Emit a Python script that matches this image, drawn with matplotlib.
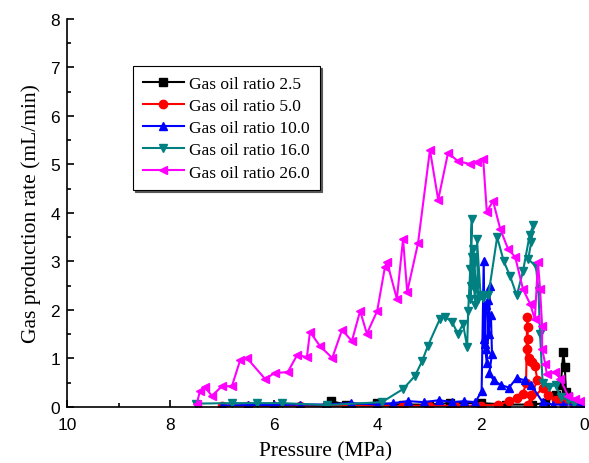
import matplotlib
matplotlib.use("Agg")
import matplotlib.pyplot as plt
from matplotlib.ticker import MultipleLocator

# ---- data ----
labels = ["Gas oil ratio 2.5", "Gas oil ratio 5.0", "Gas oil ratio 10.0",
          "Gas oil ratio 16.0", "Gas oil ratio 26.0"]

p_25 = [4.90, 4.60, 4.00, 3.50, 3.00, 2.60, 2.00, 1.50, 1.00, 0.75, 0.55, 0.45,
        0.40, 0.37, 0.35, 0.30, 0.20, 0.10, 0.05]
q_25 = [0.12, 0.05, 0.08, 0.05, 0.05, 0.08, 0.08, 0.05, 0.05, 0.08, 0.25, 0.45,
        1.13, 0.82, 0.30, 0.20, 0.10, 0.06, 0.05]

p_50 = [7.00, 6.50, 6.00, 5.50, 5.00, 4.50, 4.00, 3.50, 3.00, 2.50, 2.00, 1.66,
        1.45, 1.30, 1.18, 1.12, 1.10, 1.08, 1.11, 1.07, 1.09, 1.05, 1.00, 0.95,
        0.90, 1.02, 1.08, 0.80, 0.70, 0.55, 0.40, 0.20, 0.05]
q_50 = [0.03, 0.03, 0.02, 0.03, 0.02, 0.03, 0.02, 0.02, 0.03, 0.02, 0.03, 0.05,
        0.12, 0.18, 0.27, 0.50, 1.85, 1.65, 1.20, 1.00, 1.40, 0.95, 0.92, 0.85,
        0.55, 0.25, 0.05, 0.40, 0.25, 0.15, 0.08, 0.05, 0.04]

p_10 = [7.00, 6.50, 6.00, 5.50, 5.00, 4.50, 4.00, 3.70, 3.40, 3.10, 2.80, 2.55,
        2.33, 2.10, 1.98, 1.94, 1.92, 1.90, 1.93, 1.88, 1.85, 1.82, 1.84, 1.90,
        1.80, 1.78, 1.83, 1.75, 1.60, 1.45, 1.30, 1.15, 1.02, 0.80, 0.60, 0.40,
        0.20, 0.05]
q_10 = [0.03, 0.04, 0.04, 0.05, 0.05, 0.08, 0.05, 0.08, 0.12, 0.10, 0.14, 0.10,
        0.12, 0.10, 0.33, 3.00, 1.30, 2.10, 1.40, 0.90, 2.20, 2.50, 1.50, 1.20,
        1.90, 1.10, 0.70, 0.55, 0.45, 0.40, 0.60, 0.55, 0.45, 0.10, 0.05, 0.05,
        0.05, 0.06]

p_16 = [7.50, 6.81, 6.32, 5.84, 4.97, 3.91, 3.50, 3.27, 3.13, 3.02, 2.79, 2.69,
        2.55, 2.44, 2.34, 2.26, 2.24, 2.20, 2.17, 2.19, 2.15, 2.20, 2.13, 2.11,
        2.17, 2.10, 2.13, 2.05, 2.07, 2.00, 1.95, 1.85, 1.68, 1.55, 1.43, 1.30,
        1.18, 1.05, 0.98, 1.02, 1.08, 0.93, 0.88, 0.85, 0.80, 0.68, 0.55, 0.45,
        0.30, 0.20]
q_16 = [0.07, 0.08, 0.08, 0.08, 0.04, 0.10, 0.37, 0.64, 0.95, 1.26, 1.81, 1.86,
        1.75, 1.51, 1.71, 1.24, 1.98, 2.85, 3.88, 2.50, 3.26, 2.23, 3.05, 2.43,
        3.10, 2.10, 2.95, 2.23, 3.46, 2.30, 2.25, 2.30, 3.50, 3.00, 2.70, 2.30,
        2.80, 3.55, 3.75, 3.40, 3.05, 2.90, 2.40, 1.50, 0.50, 0.42, 0.45, 0.20,
        0.15, 0.08]

p_26 = [7.49, 7.43, 7.33, 7.20, 7.00, 6.81, 6.65, 6.52, 6.17, 5.98, 5.73, 5.55,
        5.36, 5.30, 5.11, 4.87, 4.68, 4.49, 4.33, 4.20, 4.00, 3.85, 3.81, 3.62,
        3.50, 3.42, 3.21, 2.98, 2.82, 2.63, 2.44, 2.21, 2.07, 1.95, 1.88, 1.76,
        1.62, 1.47, 1.33, 1.18, 1.04, 0.95, 0.89, 0.85, 0.81, 0.81, 0.75, 0.72,
        0.56, 0.46, 0.31, 0.17, 0.08]
q_26 = [0.06, 0.33, 0.41, 0.23, 0.43, 0.43, 0.97, 1.01, 0.58, 0.70, 0.72, 1.07,
        1.03, 1.55, 1.26, 1.01, 1.59, 1.36, 1.98, 1.51, 1.98, 2.89, 2.99, 2.23,
        3.46, 2.37, 3.38, 5.30, 4.27, 5.24, 5.07, 5.01, 5.05, 5.12, 4.02, 4.25,
        3.67, 3.26, 3.09, 2.43, 2.12, 1.81, 2.99, 2.43, 1.67, 1.20, 0.89, 0.68,
        0.72, 0.58, 0.23, 0.16, 0.12]

xticks = [10, 8, 6, 4, 2, 0]
yticks = [0, 1, 2, 3, 4, 5, 6, 7, 8]

series = [
    (p_25, q_25, "black", "s"),
    (p_50, q_50, "#FF0000", "o"),
    (p_10, q_10, "#0000FF", "^"),
    (p_16, q_16, "#008080", "v"),
    (p_26, q_26, "#FF00FF", "<"),
]

fig = plt.figure(figsize=(5.89, 4.64), dpi=100)
ax = fig.add_axes([0.1138, 0.1207, 0.8777, 0.8363])

for (x, y, c, m), lab in zip(series, labels):
    ax.plot(x, y, color=c, marker=m, markersize=6, linewidth=1.5, label=lab)

ax.set_xlim(10, 0)
ax.set_ylim(0, 8)
ax.set_xticks(xticks)
ax.set_yticks(yticks)
ax.xaxis.set_minor_locator(MultipleLocator(1))
ax.yaxis.set_minor_locator(MultipleLocator(0.5))
ax.tick_params(which="both", direction="in", top=False, right=False, width=1.2)
ax.tick_params(which="major", length=5, labelsize=12.5)
ax.tick_params(axis="x", which="major", pad=7)
ax.tick_params(axis="y", which="major", pad=5)
ax.tick_params(which="minor", length=3)
for lbl in ax.get_xticklabels() + ax.get_yticklabels():
    lbl.set_family("Liberation Sans")
ax.spines["top"].set_visible(False)
ax.spines["right"].set_visible(False)
ax.spines["left"].set_linewidth(1.2)
ax.spines["bottom"].set_linewidth(1.2)

ax.set_xlabel("Pressure (MPa)", family="Liberation Serif", fontsize=15.5, labelpad=7)
ax.set_ylabel("Gas production rate (mL/min)", family="Liberation Serif", fontsize=15.5, labelpad=7)

leg = ax.legend(loc="upper left", bbox_to_anchor=(0.1277, 0.879), frameon=True,
                fancybox=False, edgecolor="black", framealpha=1,
                prop={"family": "Liberation Serif", "size": 12.5},
                handlelength=2.4, handletextpad=0.3, labelspacing=0.35,
                borderpad=0.55, borderaxespad=0,
                shadow={"color": "0.35", "alpha": 1, "ox": 1.5, "oy": -1.5})
leg.get_frame().set_linewidth(0.8)

fig.savefig("out.png", dpi=100)
